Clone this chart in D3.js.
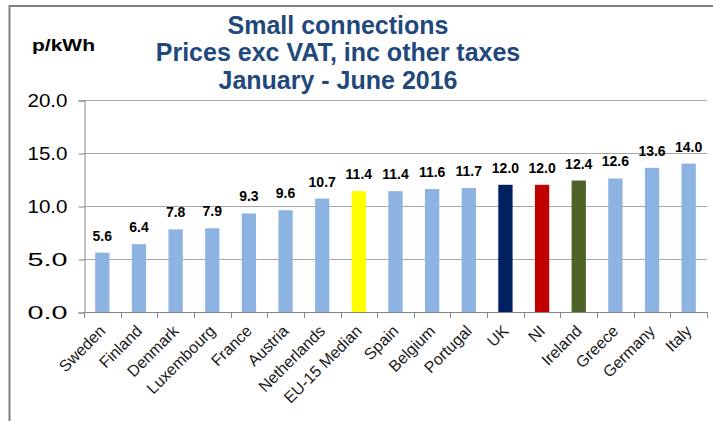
<!DOCTYPE html>
<html>
<head>
<meta charset="utf-8">
<script src="https://cdn.jsdelivr.net/npm/d3@7"></script>
<style>
  html, body { margin: 0; padding: 0; background: #fff; }
  svg { display: block; font-family: "Liberation Sans", Arial, sans-serif; }
</style>
</head>
<body>
<svg id="chart" width="713" height="421"></svg>
<script>
// Countries / groups along the x axis
const categories = ["Sweden", "Finland", "Denmark", "Luxembourg", "France", "Austria",
  "Netherlands", "EU-15 Median", "Spain", "Belgium", "Portugal", "UK", "NI",
  "Ireland", "Greece", "Germany", "Italy"];
// Prices in p/kWh
const values = [5.6, 6.4, 7.8, 7.9, 9.3, 9.6, 10.7, 11.4, 11.4, 11.6, 11.7, 12.0, 12.0,
  12.4, 12.6, 13.6, 14.0];
// Highlighted bars; everything else uses the default colour
const highlightColors = { "EU-15 Median": "#ffff00", "UK": "#002060", "NI": "#c00000", "Ireland": "#4f6228" };
const defaultColor = "#8db3e2";
const yTicks = [0, 5, 10, 15, 20];
const titleLines = ["Small connections", "Prices exc VAT, inc other taxes", "January - June 2016"];
const unitLabel = "p/kWh";

const svg = d3.select("#chart");
const plot = { left: 84, right: 707, top: 100, bottom: 312 };

// Outer frame (open at right and bottom)
svg.append("path")
  .attr("d", `M9.5,421 V6 H713`)
  .attr("fill", "none")
  .attr("stroke", "#808080")
  .attr("stroke-width", 2);

const x = d3.scaleBand().domain(categories).range([plot.left, plot.right]).paddingInner(0.61).paddingOuter(0.305);
const y = d3.scaleLinear().domain([0, 20]).range([plot.bottom, plot.top]);

// Horizontal gridlines
svg.append("g").selectAll("line").data(yTicks.filter(d => d > 0)).join("line")
  .attr("x1", plot.left).attr("x2", plot.right)
  .attr("y1", d => Math.round(y(d)) + 0.5).attr("y2", d => Math.round(y(d)) + 0.5)
  .attr("stroke", "#a6a6a6").attr("stroke-width", 1);

// Y axis
const yAxis = svg.append("g")
  .attr("transform", `translate(${plot.left + 0.5},0.5)`)
  .call(d3.axisLeft(y).tickValues(yTicks).tickFormat(d3.format(".1f")).tickSize(6).tickPadding(11));
yAxis.select(".domain").attr("stroke", "#868686");
yAxis.selectAll(".tick line").attr("stroke", "#868686");
yAxis.selectAll(".tick text")
  .attr("font-family", "'Liberation Sans', Arial, sans-serif")
  .attr("font-size", 18).attr("fill", "#000")
  .attr("textLength", 40).attr("lengthAdjust", "spacingAndGlyphs");

// Bars
svg.append("g").selectAll("rect").data(categories).join("rect")
  .attr("x", d => x(d))
  .attr("width", x.bandwidth())
  .attr("y", (d, i) => y(values[i]))
  .attr("height", (d, i) => y(0) - y(values[i]))
  .attr("fill", d => highlightColors[d] || defaultColor);

// X axis with ticks at category boundaries
const boundaries = categories.map(d => x(d) - x.step() * x.paddingInner() / 2).concat([plot.right]);
svg.append("line")
  .attr("x1", plot.left).attr("x2", plot.right)
  .attr("y1", plot.bottom + 0.5).attr("y2", plot.bottom + 0.5)
  .attr("stroke", "#868686");
svg.append("g").selectAll("line").data(boundaries).join("line")
  .attr("x1", d => Math.round(d) + 0.5).attr("x2", d => Math.round(d) + 0.5)
  .attr("y1", plot.bottom).attr("y2", plot.bottom + 6)
  .attr("stroke", "#868686");

// Category labels, rotated
svg.append("g").selectAll("text").data(categories).join("text")
  .attr("transform", d => `translate(${x(d) + x.bandwidth() / 2 + 4},${plot.bottom + 20}) rotate(-45)`)
  .attr("text-anchor", "end")
  .attr("font-size", 16)
  .attr("fill", "#1a1a1a")
  .text(d => d);

// Value labels
svg.append("g").selectAll("text").data(categories).join("text")
  .attr("x", d => x(d) + x.bandwidth() / 2)
  .attr("y", (d, i) => y(values[i]) - 12)
  .attr("text-anchor", "middle")
  .attr("font-size", 14)
  .attr("font-weight", "bold")
  .attr("fill", "#000")
  .text((d, i) => d3.format(".1f")(values[i]));

// Title
svg.append("g").selectAll("text").data(titleLines).join("text")
  .attr("x", 338)
  .attr("y", (d, i) => 33.5 + i * 27.5)
  .attr("text-anchor", "middle")
  .attr("font-size", 25)
  .attr("font-weight", "bold")
  .attr("fill", "#1f497d")
  .text(d => d);

// Unit label
svg.append("text")
  .attr("x", 32).attr("y", 51)
  .attr("font-size", 17).attr("font-weight", "bold").attr("fill", "#000")
  .attr("textLength", 63).attr("lengthAdjust", "spacingAndGlyphs")
  .text(unitLabel);
</script>
</body>
</html>
